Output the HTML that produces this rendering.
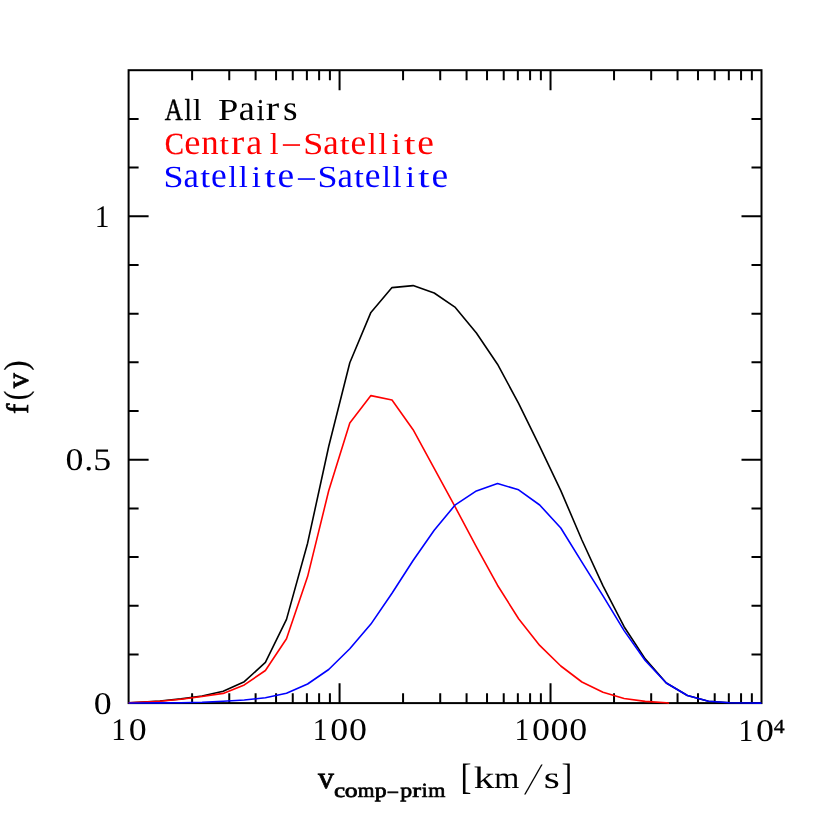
<!DOCTYPE html>
<html><head><meta charset="utf-8"><title>f(v)</title>
<style>
html,body{margin:0;padding:0;background:#fff;}
svg{display:block;will-change:transform;}
text{text-rendering:geometricPrecision;}
</style></head><body>
<svg width="830" height="830" viewBox="0 0 830 830">
<rect width="830" height="830" fill="#fff"/>
<rect x="128.6" y="70.2" width="632.9" height="632.9" fill="none" stroke="#000" stroke-width="2.0"/>
<path d="M192.11 703.15v-10M192.11 70.20v10M229.26 703.15v-10M229.26 70.20v10M255.61 703.15v-10M255.61 70.20v10M276.06 703.15v-10M276.06 70.20v10M292.76 703.15v-10M292.76 70.20v10M306.89 703.15v-10M306.89 70.20v10M319.12 703.15v-10M319.12 70.20v10M329.91 703.15v-10M329.91 70.20v10M339.57 703.15v-20M339.57 70.20v20M403.07 703.15v-10M403.07 70.20v10M440.22 703.15v-10M440.22 70.20v10M466.58 703.15v-10M466.58 70.20v10M487.03 703.15v-10M487.03 70.20v10M503.73 703.15v-10M503.73 70.20v10M517.85 703.15v-10M517.85 70.20v10M530.09 703.15v-10M530.09 70.20v10M540.88 703.15v-10M540.88 70.20v10M550.53 703.15v-20M550.53 70.20v20M614.04 703.15v-10M614.04 70.20v10M651.19 703.15v-10M651.19 70.20v10M677.55 703.15v-10M677.55 70.20v10M697.99 703.15v-10M697.99 70.20v10M714.70 703.15v-10M714.70 70.20v10M728.82 703.15v-10M728.82 70.20v10M741.06 703.15v-10M741.06 70.20v10M751.85 703.15v-10M751.85 70.20v10M128.60 654.46h10M761.50 654.46h-10M128.60 605.77h10M761.50 605.77h-10M128.60 557.08h10M761.50 557.08h-10M128.60 508.40h10M761.50 508.40h-10M128.60 459.71h20M761.50 459.71h-20M128.60 411.02h10M761.50 411.02h-10M128.60 362.33h10M761.50 362.33h-10M128.60 313.64h10M761.50 313.64h-10M128.60 264.95h10M761.50 264.95h-10M128.60 216.27h20M761.50 216.27h-20M128.60 167.58h10M761.50 167.58h-10M128.60 118.89h10M761.50 118.89h-10" stroke="#000" stroke-width="2.0" fill="none"/>
<polyline points="128.6,702.8 138.8,702.3 159.9,701.0 181.0,698.9 202.1,696.0 223.2,691.2 244.3,681.7 265.4,662.4 286.5,619.4 307.6,543.2 328.7,446.5 349.8,362.7 370.9,312.4 392.0,287.6 413.1,285.6 434.2,293.0 455.3,307.4 476.4,333.0 497.5,364.2 518.6,403.4 539.7,446.3 560.8,490.6 581.9,540.0 603.0,585.9 624.1,626.7 645.2,658.9 666.3,683.0 687.4,695.5 708.5,701.2 729.6,702.8 750.7,703.0 761.5,703.1" fill="none" stroke="#000" stroke-width="1.6" stroke-linejoin="round"/>
<polyline points="128.6,702.8 138.8,702.3 159.9,701.2 181.0,699.2 202.1,696.5 223.2,693.4 244.3,684.9 265.4,670.5 286.5,638.7 307.6,576.6 328.7,490.8 349.8,423.0 370.9,395.6 392.0,400.0 413.1,429.7 434.2,468.4 455.3,507.2 476.4,546.8 497.5,585.2 518.6,618.8 539.7,645.4 560.8,666.0 581.9,682.0 603.0,692.3 624.1,698.5 645.2,701.4 666.3,702.8 669.0,703.2" fill="none" stroke="#f00" stroke-width="1.6" stroke-linejoin="round"/>
<polyline points="128.6,703.0 138.8,703.0 159.9,702.9 181.0,702.7 202.1,702.3 223.2,701.3 244.3,700.0 265.4,697.8 286.5,693.3 307.6,684.0 328.7,669.5 349.8,648.8 370.9,624.1 392.0,593.3 413.1,560.5 434.2,530.2 455.3,504.8 476.4,490.9 497.5,483.6 518.6,489.8 539.7,505.0 560.8,528.0 581.9,562.2 603.0,595.9 624.1,630.6 645.2,660.5 666.3,683.0 687.4,695.5 708.5,701.2 729.6,702.8 750.7,703.0 761.5,703.1" fill="none" stroke="#00f" stroke-width="1.6" stroke-linejoin="round"/>
<text transform="translate(164.85 119.80) scale(0.761 0.930)" font-family="Liberation Serif" font-weight="normal" font-size="33" fill="#000" stroke="#000" stroke-width="0.48">A</text><text transform="translate(184.48 119.80) scale(0.783 0.920)" font-family="Liberation Serif" font-weight="normal" font-size="33" fill="#000" stroke="#000" stroke-width="0.43">l</text><text transform="translate(193.09 119.80) scale(0.922 0.920)" font-family="Liberation Serif" font-weight="normal" font-size="33" fill="#000" stroke="#000" stroke-width="0.16">l</text>
<text transform="translate(217.91 119.80) scale(1.106 0.930)" font-family="Liberation Serif" font-weight="normal" font-size="33" fill="#000">P</text><text transform="translate(238.83 119.80) scale(1.097 1.080)" font-family="Liberation Serif" font-weight="normal" font-size="33" fill="#000">a</text><text transform="translate(256.98 119.80) scale(0.783 0.920)" font-family="Liberation Serif" font-weight="normal" font-size="33" fill="#000" stroke="#000" stroke-width="0.43">i</text><text transform="translate(265.79 119.80) scale(1.222 1.080)" font-family="Liberation Serif" font-weight="normal" font-size="33" fill="#000">r</text><text transform="translate(283.00 119.80) scale(1.135 1.080)" font-family="Liberation Serif" font-weight="normal" font-size="33" fill="#000">s</text>
<text transform="translate(164.75 153.60) scale(0.872 0.930)" font-family="Liberation Serif" font-weight="normal" font-size="33" fill="#f00" stroke="#f00" stroke-width="0.26">C</text><text transform="translate(184.14 153.60) scale(1.106 1.080)" font-family="Liberation Serif" font-weight="normal" font-size="33" fill="#f00">e</text><text transform="translate(201.33 153.60) scale(1.054 1.080)" font-family="Liberation Serif" font-weight="normal" font-size="33" fill="#f00">n</text><text transform="translate(219.56 153.60) scale(1.037 0.920)" font-family="Liberation Serif" font-weight="normal" font-size="33" fill="#f00">t</text><text transform="translate(230.91 153.60) scale(1.202 1.080)" font-family="Liberation Serif" font-weight="normal" font-size="33" fill="#f00">r</text><text transform="translate(246.15 153.60) scale(1.082 1.080)" font-family="Liberation Serif" font-weight="normal" font-size="33" fill="#f00">a</text><text transform="translate(269.77 153.60) scale(0.960 0.920)" font-family="Liberation Serif" font-weight="normal" font-size="33" fill="#f00">l</text><text transform="translate(280.95 156.20) scale(1.12 1.0)" font-family="Liberation Serif" font-weight="normal" font-size="33" letter-spacing="0.000" fill="#f00">&#8722;</text><text transform="translate(303.26 153.60) scale(1.092 0.930)" font-family="Liberation Serif" font-weight="normal" font-size="33" fill="#f00">S</text><text transform="translate(323.29 153.60) scale(1.051 1.080)" font-family="Liberation Serif" font-weight="normal" font-size="33" fill="#f00">a</text><text transform="translate(339.84 153.60) scale(1.084 0.920)" font-family="Liberation Serif" font-weight="normal" font-size="33" fill="#f00">t</text><text transform="translate(350.58 153.60) scale(1.073 1.080)" font-family="Liberation Serif" font-weight="normal" font-size="33" fill="#f00">e</text><text transform="translate(368.09 153.60) scale(0.922 0.920)" font-family="Liberation Serif" font-weight="normal" font-size="33" fill="#f00" stroke="#f00" stroke-width="0.16">l</text><text transform="translate(378.35 153.60) scale(0.985 0.920)" font-family="Liberation Serif" font-weight="normal" font-size="33" fill="#f00">l</text><text transform="translate(391.44 153.60) scale(0.997 0.920)" font-family="Liberation Serif" font-weight="normal" font-size="33" fill="#f00">i</text><text transform="translate(403.88 153.60) scale(1.259 0.920)" font-family="Liberation Serif" font-weight="normal" font-size="33" fill="#f00">t</text><text transform="translate(417.20 153.60) scale(1.138 1.080)" font-family="Liberation Serif" font-weight="normal" font-size="33" fill="#f00">e</text>
<text transform="translate(163.56 187.00) scale(1.092 0.930)" font-family="Liberation Serif" font-weight="normal" font-size="33" fill="#00f">S</text><text transform="translate(183.59 187.00) scale(1.051 1.080)" font-family="Liberation Serif" font-weight="normal" font-size="33" fill="#00f">a</text><text transform="translate(200.14 187.00) scale(1.084 0.920)" font-family="Liberation Serif" font-weight="normal" font-size="33" fill="#00f">t</text><text transform="translate(210.88 187.00) scale(1.073 1.080)" font-family="Liberation Serif" font-weight="normal" font-size="33" fill="#00f">e</text><text transform="translate(228.39 187.00) scale(0.922 0.920)" font-family="Liberation Serif" font-weight="normal" font-size="33" fill="#00f" stroke="#00f" stroke-width="0.16">l</text><text transform="translate(238.65 187.00) scale(0.985 0.920)" font-family="Liberation Serif" font-weight="normal" font-size="33" fill="#00f">l</text><text transform="translate(251.74 187.00) scale(0.997 0.920)" font-family="Liberation Serif" font-weight="normal" font-size="33" fill="#00f">i</text><text transform="translate(264.18 187.00) scale(1.259 0.920)" font-family="Liberation Serif" font-weight="normal" font-size="33" fill="#00f">t</text><text transform="translate(277.50 187.00) scale(1.138 1.080)" font-family="Liberation Serif" font-weight="normal" font-size="33" fill="#00f">e</text><text transform="translate(295.95 189.60) scale(1.12 1.0)" font-family="Liberation Serif" font-weight="normal" font-size="33" letter-spacing="0.000" fill="#00f">&#8722;</text><text transform="translate(317.46 187.00) scale(1.092 0.930)" font-family="Liberation Serif" font-weight="normal" font-size="33" fill="#00f">S</text><text transform="translate(337.49 187.00) scale(1.051 1.080)" font-family="Liberation Serif" font-weight="normal" font-size="33" fill="#00f">a</text><text transform="translate(354.04 187.00) scale(1.084 0.920)" font-family="Liberation Serif" font-weight="normal" font-size="33" fill="#00f">t</text><text transform="translate(364.78 187.00) scale(1.073 1.080)" font-family="Liberation Serif" font-weight="normal" font-size="33" fill="#00f">e</text><text transform="translate(382.29 187.00) scale(0.922 0.920)" font-family="Liberation Serif" font-weight="normal" font-size="33" fill="#00f" stroke="#00f" stroke-width="0.16">l</text><text transform="translate(392.55 187.00) scale(0.985 0.920)" font-family="Liberation Serif" font-weight="normal" font-size="33" fill="#00f">l</text><text transform="translate(405.64 187.00) scale(0.997 0.920)" font-family="Liberation Serif" font-weight="normal" font-size="33" fill="#00f">i</text><text transform="translate(418.08 187.00) scale(1.259 0.920)" font-family="Liberation Serif" font-weight="normal" font-size="33" fill="#00f">t</text><text transform="translate(431.40 187.00) scale(1.138 1.080)" font-family="Liberation Serif" font-weight="normal" font-size="33" fill="#00f">e</text>
<text transform="translate(93.67 713.90) scale(1.140 1)" font-family="Liberation Serif" font-size="31.5">0</text>
<text transform="translate(65.62 470.10) scale(1.140 1)" font-family="Liberation Serif" font-size="31.5">0</text><text transform="translate(84.14 470.10) scale(1.140 1)" font-family="Liberation Serif" font-size="31.5">.</text><text transform="translate(93.31 470.10) scale(1.140 1)" font-family="Liberation Serif" font-size="31.5">5</text>
<text transform="translate(94.85 227.30) scale(0.935 1)" font-family="Liberation Serif" font-size="31.5">1</text>
<text transform="translate(111.15 740.30) scale(0.935 1)" font-family="Liberation Serif" font-size="31.5">1</text><text transform="translate(128.67 740.30) scale(1.140 1)" font-family="Liberation Serif" font-size="31.5">0</text>
<text transform="translate(312.76 740.30) scale(0.935 1)" font-family="Liberation Serif" font-size="31.5">1</text><text transform="translate(330.29 740.30) scale(1.140 1)" font-family="Liberation Serif" font-size="31.5">0</text><text transform="translate(348.99 740.30) scale(1.140 1)" font-family="Liberation Serif" font-size="31.5">0</text>
<text transform="translate(514.38 740.30) scale(0.935 1)" font-family="Liberation Serif" font-size="31.5">1</text><text transform="translate(531.91 740.30) scale(1.140 1)" font-family="Liberation Serif" font-size="31.5">0</text><text transform="translate(550.61 740.30) scale(1.140 1)" font-family="Liberation Serif" font-size="31.5">0</text><text transform="translate(569.31 740.30) scale(1.140 1)" font-family="Liberation Serif" font-size="31.5">0</text>
<text transform="translate(738.45 741.30) scale(0.935 1)" font-family="Liberation Serif" font-size="31.5">1</text><text transform="translate(755.97 741.30) scale(1.140 1)" font-family="Liberation Serif" font-size="31.5">0</text><text transform="translate(773.86 733.30) scale(1.1 1.0)" font-family="Liberation Serif" font-weight="normal" font-size="19.8" fill="#000" stroke="#000" stroke-width="0.35">4</text>
<g transform="translate(28.4 412.8) rotate(-90)"><text transform="translate(-0.90 0.00) scale(0.973 1.000)" font-family="Liberation Serif" font-weight="normal" font-size="31" fill="#000" stroke="#000" stroke-width="0.75">f</text><text transform="translate(12.61 -1.00) scale(0.923 1.078)" font-family="Liberation Serif" font-weight="normal" font-size="31" fill="#000" stroke="#000" stroke-width="0.2">(</text><text transform="translate(24.50 0.00) scale(0.981 1.000)" font-family="Liberation Serif" font-weight="normal" font-size="31" fill="#000" stroke="#000" stroke-width="0.75">v</text><text transform="translate(42.08 -1.00) scale(0.993 1.078)" font-family="Liberation Serif" font-weight="normal" font-size="31" fill="#000" stroke="#000" stroke-width="0.2">)</text></g>
<text transform="translate(318.10 787.80) scale(1.026 1.000)" font-family="Liberation Serif" font-weight="normal" font-size="31" fill="#000" stroke="#000" stroke-width="0.75">v</text><text transform="translate(334.10 797.00) scale(1.241 1.000)" font-family="Liberation Serif" font-weight="normal" font-size="20.2" fill="#000" stroke="#000" stroke-width="0.7">c</text><text transform="translate(344.87 797.00) scale(1.273 1.000)" font-family="Liberation Serif" font-weight="normal" font-size="20.2" fill="#000" stroke="#000" stroke-width="0.7">o</text><text transform="translate(357.77 797.00) scale(1.064 1.000)" font-family="Liberation Serif" font-weight="normal" font-size="20.2" fill="#000" stroke="#000" stroke-width="0.7">m</text><text transform="translate(374.74 797.00) scale(1.179 1.000)" font-family="Liberation Serif" font-weight="normal" font-size="20.2" fill="#000" stroke="#000" stroke-width="0.7">p</text><text transform="translate(386.71 798.80) scale(1.075 1.000)" font-family="Liberation Serif" font-weight="normal" font-size="20.2" fill="#000" stroke="#000" stroke-width="0.7">&#8722;</text><text transform="translate(400.24 797.00) scale(1.179 1.000)" font-family="Liberation Serif" font-weight="normal" font-size="20.2" fill="#000" stroke="#000" stroke-width="0.7">p</text><text transform="translate(412.17 797.00) scale(1.315 1.000)" font-family="Liberation Serif" font-weight="normal" font-size="20.2" fill="#000" stroke="#000" stroke-width="0.7">r</text><text transform="translate(421.78 797.00) scale(1.031 1.000)" font-family="Liberation Serif" font-weight="normal" font-size="20.2" fill="#000" stroke="#000" stroke-width="0.7">i</text><text transform="translate(428.16 797.00) scale(1.090 1.000)" font-family="Liberation Serif" font-weight="normal" font-size="20.2" fill="#000" stroke="#000" stroke-width="0.7">m</text>
<text transform="translate(460.48 789.34) scale(1.063 1.185)" font-family="Liberation Serif" font-weight="normal" font-size="31" fill="#000">[</text><text transform="translate(473.68 788.00) scale(1.331 1.000)" font-family="Liberation Serif" font-weight="normal" font-size="31" fill="#000">k</text><text transform="translate(494.16 788.00) scale(1.037 1.000)" font-family="Liberation Serif" font-weight="normal" font-size="31" fill="#000">m</text><text transform="translate(524.25 793.85) skewX(-18.28) scale(1.000 1.450)" font-family="Liberation Serif" font-weight="normal" font-size="31" fill="#000">/</text><text transform="translate(543.75 788.00) scale(1.331 1.000)" font-family="Liberation Serif" font-weight="normal" font-size="31" fill="#000">s</text><text transform="translate(561.58 789.34) scale(1.032 1.185)" font-family="Liberation Serif" font-weight="normal" font-size="31" fill="#000">]</text>
</svg>
</body></html>
